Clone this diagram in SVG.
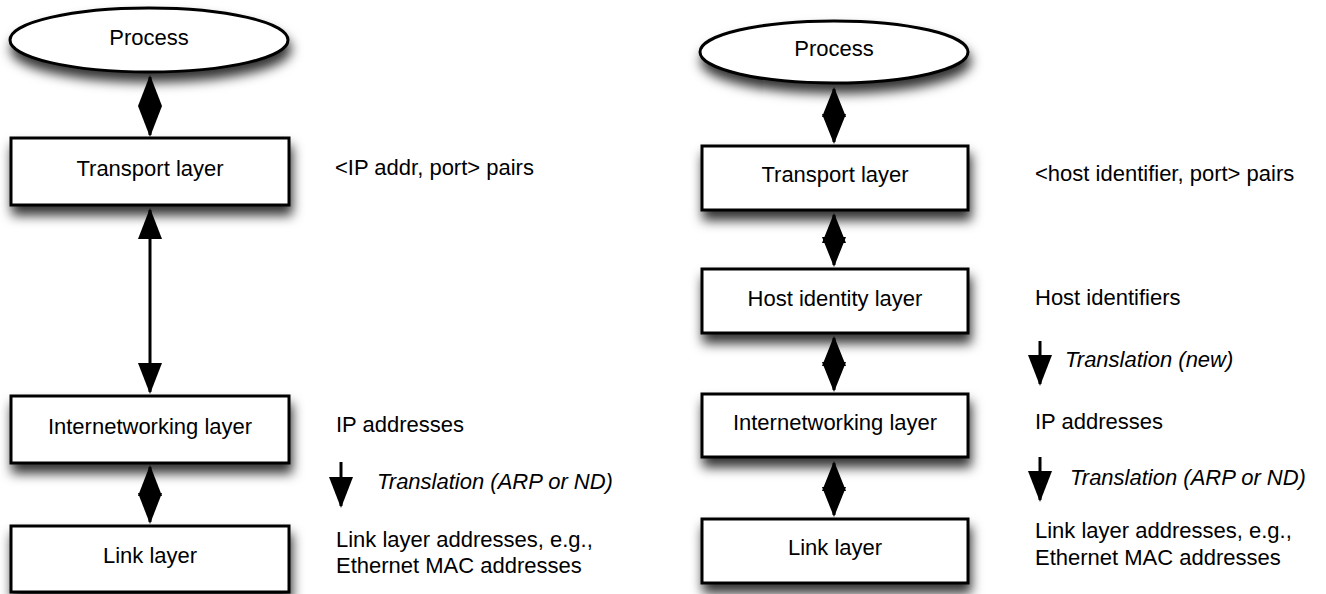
<svg xmlns="http://www.w3.org/2000/svg" width="1326" height="594" viewBox="0 0 1326 594">
<defs>
<filter id="sh" x="-20%" y="-40%" width="145%" height="200%">
<feDropShadow dx="2" dy="9" stdDeviation="6" flood-color="#000" flood-opacity="0.8"/>
</filter>
<marker id="ah" markerUnits="userSpaceOnUse" markerWidth="31" markerHeight="24" refX="29" refY="12" orient="auto-start-reverse" viewBox="0 0 31 24">
<path d="M0,0 L31,12 L0,24 Z" fill="#000"/>
</marker>
<marker id="ahs" markerUnits="userSpaceOnUse" markerWidth="30" markerHeight="24" refX="28" refY="12" orient="auto-start-reverse" viewBox="0 0 30 24">
<path d="M0,0 L30,12 L0,24 Z" fill="#000"/>
</marker>
</defs>
<style>
.node{fill:#fff;stroke:#000;stroke-width:3;filter:url(#sh)}
.t{font-family:"Liberation Sans",Arial,sans-serif;font-size:22px;fill:#000}
.c{text-anchor:middle}
.i{font-style:italic}
.ln{stroke:#000;stroke-width:3;fill:none}
.d{marker-start:url(#ah);marker-end:url(#ah)}
.ds{marker-start:url(#ahs);marker-end:url(#ahs)}
.e{marker-end:url(#ah)}
</style>
<rect width="1326" height="594" fill="#fff"/>

<!-- left stack -->
<g id="l-process"><ellipse class="node" cx="149" cy="40" rx="139" ry="32"/><text class="t c" x="149" y="45">Process</text></g>
<g id="l-transport"><rect class="node" x="11" y="138" width="278" height="67"/><text class="t c" x="150" y="176">Transport layer</text></g>
<g id="l-internet"><rect class="node" x="11" y="396" width="278" height="67"/><text class="t c" x="150" y="434">Internetworking layer</text></g>
<g id="l-link"><rect class="node" x="11" y="526" width="278" height="66"/><text class="t c" x="150" y="563">Link layer</text></g>

<!-- right stack -->
<g id="r-process"><ellipse class="node" cx="834" cy="52" rx="134" ry="31"/><text class="t c" x="834" y="56">Process</text></g>
<g id="r-transport"><rect class="node" x="702" y="146" width="266" height="64"/><text class="t c" x="835" y="182">Transport layer</text></g>
<g id="r-host"><rect class="node" x="702" y="269" width="266" height="64"/><text class="t c" x="835" y="306">Host identity layer</text></g>
<g id="r-internet"><rect class="node" x="702" y="394" width="266" height="63"/><text class="t c" x="835" y="430">Internetworking layer</text></g>
<g id="r-link"><rect class="node" x="702" y="519" width="266" height="64"/><text class="t c" x="835" y="555">Link layer</text></g>

<g id="connectors">
<line class="ln d" x1="150" y1="77" x2="150" y2="135"/>
<line class="ln d" x1="150" y1="210" x2="150" y2="392"/>
<line class="ln d" x1="150" y1="467" x2="150" y2="522"/>
<line class="ln ds" x1="834" y1="89" x2="834" y2="142"/>
<line class="ln ds" x1="834" y1="215" x2="834" y2="265"/>
<line class="ln ds" x1="834" y1="338" x2="834" y2="390"/>
<line class="ln ds" x1="834" y1="463" x2="834" y2="515"/>
<line class="ln e" x1="341" y1="462" x2="341" y2="506"/>
<line class="ln e" x1="1040" y1="341" x2="1040" y2="384"/>
<line class="ln e" x1="1040" y1="457" x2="1040" y2="500"/>
</g>

<g id="labels">
<text class="t" x="335" y="175">&lt;IP addr, port&gt; pairs</text>
<text class="t" x="336" y="432">IP addresses</text>
<text class="t i" x="377" y="489">Translation (ARP or ND)</text>
<text class="t" x="336" y="547">Link layer addresses, e.g.,</text>
<text class="t" x="336" y="573">Ethernet MAC addresses</text>
<text class="t" x="1035" y="181">&lt;host identifier, port&gt; pairs</text>
<text class="t" x="1035" y="305">Host identifiers</text>
<text class="t i" x="1065" y="367">Translation (new)</text>
<text class="t" x="1035" y="429">IP addresses</text>
<text class="t i" x="1070" y="485">Translation (ARP or ND)</text>
<text class="t" x="1035" y="538">Link layer addresses, e.g.,</text>
<text class="t" x="1035" y="565">Ethernet MAC addresses</text>
</g>
</svg>
